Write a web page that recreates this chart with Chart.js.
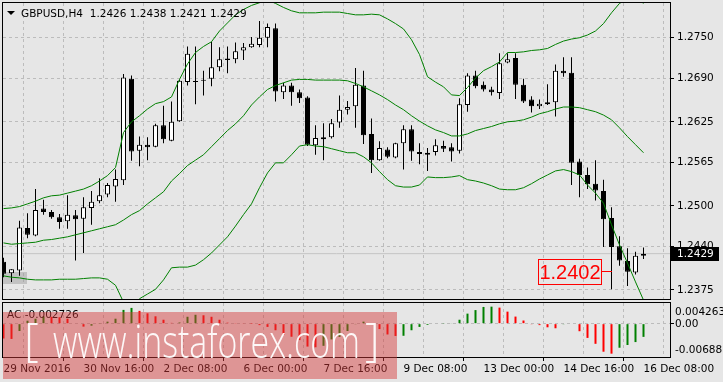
<!DOCTYPE html>
<html><head><meta charset="utf-8">
<script src="https://cdn.jsdelivr.net/npm/chart.js@4.4.1/dist/chart.umd.min.js"></script>
<style>
html,body{margin:0;padding:0;background:#e6e6e6;}
#wrap{position:relative;width:723px;height:382px;overflow:hidden;background:#e6e6e6;font-family:'DejaVu Sans',sans-serif;}
canvas{position:absolute;left:0;}
#c1{top:0;} #c2{top:300px;}
.lbl{position:absolute;font-size:10.5px;line-height:12px;color:#000;white-space:pre;}
#tri{position:absolute;left:7px;top:11px;width:0;height:0;border-left:4px solid transparent;border-right:4px solid transparent;border-top:4px solid #000;}
#title{left:21px;top:7px;}
#aclbl{left:7px;top:308px;}
#wm{position:absolute;left:3px;top:312px;width:394px;height:67px;background:rgba(212,58,58,0.47);overflow:hidden;}
#wm span{position:absolute;font-family:'Open Sans',sans-serif;font-weight:300;font-size:46px;line-height:46px;color:rgba(255,255,255,0.93);white-space:pre;transform-origin:0 0;}
</style></head>
<body><div id="wrap">
<canvas id="c1" width="723" height="300"></canvas>
<canvas id="c2" width="723" height="82"></canvas>
<div id="tri"></div>
<div class="lbl" id="title"></div>
<div class="lbl" id="aclbl"></div>
<div id="wm"><span id="wb1">[</span><span id="wurl">www.instaforex.com</span><span id="wb2">]</span></div>
</div>
<script>
// ---------- data ----------
const symbolName = 'GBPUSD,H4';
const indicatorName = 'AC';
const opens = [1.2417,1.2400,1.2404,1.2467,1.2456,1.2496,1.2491,1.2483,1.2477,1.2486,
1.2481,1.2497,1.2507,1.2517,1.2529,1.2538,1.2689,1.2582,1.2591,1.2588,
1.2620,1.2597,1.2626,1.2684,1.2685,1.2687,1.2689,1.2706,1.2719,1.2718,
1.2731,1.2736,1.2739,1.2750,1.2764,1.2669,1.2679,1.2669,1.2661,1.2590,
1.2599,1.2602,1.2624,1.2643,1.2648,1.2679,1.2607,1.2568,1.2584,1.2572,
1.2593,1.2614,1.2580,1.2579,1.2580,1.2589,1.2587,1.2582,1.2650,1.2694,
1.2680,1.2673,1.2668,1.2713,1.2720,1.2680,1.2658,1.2648,1.2651,1.2654,
1.2701,1.2698,1.2566,1.2546,1.2533,1.2522,1.2482,1.2440,1.2418,1.2401,
1.2426];
const highs = [1.2423,1.2406,1.2478,1.2489,1.2525,1.2509,1.2494,1.2488,1.2516,1.2494,
1.2513,1.2522,1.2541,1.2534,1.2554,1.2696,1.2694,1.2603,1.2602,1.2622,
1.2649,1.2655,1.2688,1.2737,1.2737,1.2701,1.2744,1.2736,1.2737,1.2743,
1.2742,1.2751,1.2775,1.2771,1.2771,1.2683,1.2683,1.2673,1.2663,1.2620,
1.2623,1.2629,1.2664,1.2656,1.2705,1.2701,1.2630,1.2596,1.2587,1.2594,
1.2620,1.2620,1.2593,1.2586,1.2599,1.2597,1.2593,1.2660,1.2697,1.2701,
1.2685,1.2677,1.2727,1.2727,1.2727,1.2689,1.2663,1.2658,1.2681,1.2710,
1.2721,1.2721,1.2570,1.2557,1.2568,1.2539,1.2498,1.2455,1.2437,1.2432,
1.2438];
const lows = [1.2394,1.2387,1.2396,1.2452,1.2455,1.2487,1.2481,1.2466,1.2466,1.2419,
1.2430,1.2472,1.2504,1.2513,1.2506,1.2531,1.2567,1.2559,1.2568,1.2587,
1.2593,1.2596,1.2625,1.2679,1.2651,1.2664,1.2678,1.2700,1.2697,1.2712,
1.2717,1.2735,1.2736,1.2736,1.2655,1.2659,1.2649,1.2653,1.2589,1.2576,
1.2568,1.2600,1.2616,1.2636,1.2616,1.2592,1.2549,1.2567,1.2571,1.2571,
1.2554,1.2567,1.2562,1.2552,1.2575,1.2580,1.2566,1.2578,1.2640,1.2675,
1.2670,1.2664,1.2659,1.2712,1.2659,1.2653,1.2639,1.2644,1.2650,1.2633,
1.2692,1.2531,1.2513,1.2525,1.2508,1.2439,1.2376,1.2411,1.2381,1.2398,
1.2421];
const closes = [1.2399,1.2406,1.2468,1.2457,1.2494,1.2491,1.2483,1.2476,1.2487,1.2480,
1.2498,1.2506,1.2516,1.2531,1.2540,1.2691,1.2581,1.2591,1.2587,1.2620,
1.2599,1.2625,1.2686,1.2726,1.2684,1.2686,1.2706,1.2718,1.2717,1.2730,
1.2736,1.2741,1.2750,1.2766,1.2670,1.2679,1.2669,1.2660,1.2591,1.2601,
1.2602,1.2623,1.2643,1.2647,1.2680,1.2605,1.2568,1.2586,1.2573,1.2593,
1.2614,1.2581,1.2577,1.2576,1.2590,1.2585,1.2581,1.2651,1.2694,1.2678,
1.2673,1.2669,1.2712,1.2718,1.2680,1.2655,1.2648,1.2652,1.2654,1.2701,
1.2697,1.2564,1.2546,1.2532,1.2523,1.2480,1.2439,1.2419,1.2402,1.2426,
1.2429];
const bbUpper = [1.2496,1.2497,1.2499,1.2503,1.2507,1.2512,1.2515,1.2516,1.2519,1.2522,
1.2525,1.2530,1.2537,1.2545,1.2557,1.2609,1.2625,1.2634,1.2644,1.2652,
1.2655,1.2662,1.2688,1.2711,1.2728,1.2737,1.2744,1.2760,1.2772,1.2784,
1.2792,1.2798,1.2802,1.2806,1.2801,1.2795,1.2790,1.2787,1.2787,1.2787,
1.2788,1.2788,1.2788,1.2786,1.2784,1.2784,1.2785,1.2784,1.2778,1.2771,
1.2763,1.2747,1.2725,1.2692,1.2684,1.2677,1.2665,1.2664,1.2676,1.2690,
1.2701,1.2707,1.2714,1.2728,1.2728,1.2729,1.2731,1.2732,1.2734,1.2740,
1.2745,1.2748,1.2750,1.2754,1.2760,1.2771,1.2787,1.2801,1.2808,1.2810,
1.2801];
const bbMiddle = [1.2445,1.2443,1.2444,1.2445,1.2446,1.2449,1.2450,1.2452,1.2454,1.2457,
1.2460,1.2463,1.2466,1.2469,1.2472,1.2479,1.2487,1.2493,1.2503,1.2512,
1.2521,1.2537,1.2548,1.2560,1.2568,1.2576,1.2588,1.2600,1.2612,1.2622,
1.2634,1.2650,1.2662,1.2673,1.2679,1.2683,1.2687,1.2688,1.2688,1.2687,
1.2687,1.2687,1.2687,1.2686,1.2682,1.2677,1.2671,1.2665,1.2658,1.2650,
1.2643,1.2634,1.2626,1.2619,1.2613,1.2609,1.2604,1.2604,1.2607,1.2612,
1.2615,1.2618,1.2622,1.2625,1.2626,1.2628,1.2632,1.2637,1.2640,1.2644,
1.2647,1.2647,1.2646,1.2643,1.2640,1.2635,1.2628,1.2616,1.2603,1.2591,
1.2579];
const bbLower = [1.2396,1.2394,1.2393,1.2391,1.2390,1.2390,1.2390,1.2391,1.2391,1.2391,
1.2392,1.2393,1.2393,1.2391,1.2382,1.2357,1.2345,1.2362,1.2369,1.2376,
1.2390,1.2408,1.2409,1.2409,1.2412,1.2420,1.2430,1.2442,1.2454,1.2470,
1.2487,1.2503,1.2527,1.2549,1.2564,1.2564,1.2576,1.2589,1.2591,1.2589,
1.2588,1.2585,1.2582,1.2579,1.2579,1.2573,1.2564,1.2551,1.2539,1.2530,
1.2528,1.2528,1.2531,1.2543,1.2542,1.2542,1.2543,1.2545,1.2539,1.2537,
1.2534,1.2530,1.2525,1.2524,1.2524,1.2527,1.2533,1.2540,1.2546,1.2552,
1.2554,1.2551,1.2546,1.2531,1.2519,1.2504,1.2472,1.2442,1.2415,1.2387,
1.2360];
const acValues = [-0.00305,-0.00315,-0.00152,0.00061,0.00102,0.00152,0.00142,0.00132,0.00102,0.00010,
-0.00061,-0.00041,0.00006,0.00041,0.00102,0.00284,0.00325,0.00264,0.00213,0.00152,
0.00081,0.00016,0.00024,0.00142,0.00183,0.00173,0.00142,0.00081,0.00020,0.00014,
0.00008,0.00002,-0.00030,-0.00067,-0.00136,-0.00229,-0.00270,-0.00339,-0.00473,-0.00487,
-0.00457,-0.00325,-0.00274,-0.00152,-0.00006,0.00041,-0.00010,-0.00112,-0.00223,-0.00254,
-0.00250,-0.00136,-0.00067,-0.00026,-0.00010,0.00006,0.00012,0.00081,0.00207,0.00280,
0.00345,0.00351,0.00331,0.00248,0.00146,0.00065,-0.00006,-0.00030,-0.00075,-0.00095,
-0.00006,-0.00010,-0.00156,-0.00294,-0.00416,-0.00579,-0.00619,-0.00497,-0.00441,-0.00380,
-0.002726];
const dateLabels = ['29 Nov 2016','30 Nov 16:00','2 Dec 08:00','6 Dec 00:00','7 Dec 16:00',
  '9 Dec 08:00','13 Dec 00:00','14 Dec 16:00','16 Dec 08:00'];
const priceTicks = [1.2375,1.2440,1.2500,1.2565,1.2625,1.2690,1.2750];
const priceRange = [1.23616,1.28016];
const acRange = [-0.00688,0.004263];
const acScaleLabels = ['0.004263','0.00','-0.00688'];
const markedPrice = 1.2402;
const markedBar = 76;
const shadedBars = [-0.5, 2.94];
const shadedPrices = [1.2384, 1.2402];

// ---------- setup ----------
const N = closes.length;
const X_MIN = -0.0625, X_MAX = 83.3125;
const GRID = '#bcbcbc';
const FONT = "'DejaVu Sans', sans-serif";
Chart.defaults.font.family = FONT;
Chart.defaults.font.size = 10.5;
Chart.defaults.color = '#000';

const lastO = opens[N-1], lastH = highs[N-1], lastL = lows[N-1], lastC = closes[N-1];
document.getElementById('title').textContent =
  symbolName + '  ' + [lastO,lastH,lastL,lastC].map(v=>v.toFixed(4)).join(' ');
document.getElementById('aclbl').textContent = indicatorName + ' ' + acValues[N-1].toFixed(6);

const idx = closes.map((_, i) => i);
const pts = arr => arr.map((v, i) => ({x: i, y: v}));
const up = i => closes[i] >= opens[i];

function gridTicks(s){ s.ticks = []; for (let v = 0; v < N; v += 5) s.ticks.push({value: v}); }

const framePlugin = {
  id: 'frame',
  afterDraw(chart){
    const {ctx, chartArea: a} = chart;
    ctx.save(); ctx.strokeStyle = '#000'; ctx.lineWidth = 1;
    ctx.strokeRect(a.left - 0.5, a.top - 0.5, a.right - a.left + 1, a.bottom - a.top + 1);
    ctx.restore();
  }
};

const shadePlugin = {
  id: 'shade',
  beforeDatasetsDraw(chart){
    const {ctx, chartArea: a} = chart; const xs = chart.scales.x, ys = chart.scales.y;
    const x1 = Math.max(a.left, Math.round(xs.getPixelForValue(shadedBars[0])));
    const x2 = Math.round(xs.getPixelForValue(shadedBars[1]));
    const y1 = Math.round(ys.getPixelForValue(shadedPrices[1]));
    const y2 = Math.round(ys.getPixelForValue(shadedPrices[0]));
    ctx.save(); ctx.fillStyle = 'rgba(150,150,150,0.45)'; ctx.fillRect(x1, y1, x2 - x1, y2 - y1); ctx.restore();
  }
};

const mainLabels = {
  id: 'mainLabels',
  afterDraw(chart){
    const {ctx, chartArea: a} = chart;
    const xs = chart.scales.x, ys = chart.scales.y;
    ctx.save();
    const yc = ys.getPixelForValue(lastC);
    ctx.fillStyle = '#000';
    ctx.fillRect(a.right + 1, Math.round(yc) - 7, 48, 14);
    ctx.fillStyle = '#fff';
    ctx.font = '10.5px ' + FONT;
    ctx.textBaseline = 'middle'; ctx.textAlign = 'left';
    ctx.fillText(lastC.toFixed(4), a.right + 7, yc + 0.5);
    const py = Math.round(ys.getPixelForValue(markedPrice)) - 0.5;
    const px = Math.round(xs.getPixelForValue(markedBar));
    ctx.strokeStyle = '#ff0000'; ctx.lineWidth = 1;
    ctx.beginPath(); ctx.moveTo(px - 10, py); ctx.lineTo(px, py); ctx.stroke();
    ctx.strokeRect(px - 73.5, py - 12, 63, 25);
    ctx.fillStyle = '#ff0000';
    ctx.font = "20px 'Liberation Sans', Arial, sans-serif";
    ctx.textAlign = 'center';
    ctx.fillText(markedPrice.toFixed(4), px - 42, py + 1.5);
    ctx.restore();
  }
};

new Chart(document.getElementById('c1'), {
  type: 'bar',
  data: { datasets: [
    { type:'line', data: pts(bbUpper), borderColor:'#008000', borderWidth:1, pointRadius:0, tension:0, order:1 },
    { type:'line', data: pts(bbMiddle), borderColor:'#008000', borderWidth:1, pointRadius:0, tension:0, order:1 },
    { type:'line', data: pts(bbLower), borderColor:'#008000', borderWidth:1, pointRadius:0, tension:0, order:1 },
    { type:'bar', data: idx.map(i => ({x:i, y:[Math.min(opens[i],closes[i]), Math.max(opens[i],closes[i])]})),
      barThickness:5, grouped:false, inflateAmount:0, minBarLength:1,
      backgroundColor: c => up(c.dataIndex) ? '#ffffff' : '#000000',
      borderColor:'#000', borderWidth:1, borderSkipped:false, order:2 },
    { type:'bar', data: idx.map(i => ({x:i, y:[lows[i], highs[i]]})),
      barThickness:1, grouped:false, inflateAmount:0, backgroundColor:'#000', borderWidth:0, order:3 },
    { type:'line', data: [{x:X_MIN, y:lastC},{x:X_MAX, y:lastC}], borderColor:'#c4c4c4', borderWidth:1, pointRadius:0, order:4 }
  ]},
  options: {
    responsive:false, animation:false, devicePixelRatio:1, events:[],
    layout:{ padding:{ left:3, top:3, right:0, bottom:1 } },
    plugins:{ legend:{display:false}, tooltip:{enabled:false} },
    scales:{
      x:{ type:'linear', min:X_MIN, max:X_MAX, bounds:'data', offset:false,
          afterBuildTicks: gridTicks,
          grid:{ color:GRID, lineWidth:1, drawTicks:false },
          border:{ display:false, dash:[3,3] },
          ticks:{ display:false },
          afterFit(s){ s.height = 0; s.paddingLeft = 0; s.paddingRight = 0; } },
      y:{ position:'right', min:priceRange[0], max:priceRange[1], bounds:'data',
          afterBuildTicks(s){ s.ticks = priceTicks.map(v => ({value:v})); },
          grid:{ color:GRID, lineWidth:1, drawTicks:true, tickLength:4, tickColor:'#000', tickWidth:1, tickBorderDash:[] },
          border:{ display:false, dash:[3,3] },
          ticks:{ padding:3, color:'#000', callback: v => Number(v).toFixed(4) },
          afterFit(s){ s.width = 53; s.paddingTop = 0; s.paddingBottom = 0; } }
    }
  },
  plugins:[shadePlugin, framePlugin, mainLabels]
});

const acLabels = {
  id:'acLabels',
  afterDraw(chart){
    const {ctx, chartArea:a} = chart; const ys = chart.scales.y;
    ctx.save(); ctx.fillStyle = '#000'; ctx.font = '10.5px ' + FONT;
    ctx.textBaseline = 'middle'; ctx.textAlign = 'left';
    ctx.fillText(acScaleLabels[0], a.right + 5, a.top + 9.5);
    ctx.fillText(acScaleLabels[1], a.right + 5, ys.getPixelForValue(0) + 0.5);
    ctx.fillText(acScaleLabels[2], a.right + 5, a.bottom - 7);
    ctx.restore();
  }
};

new Chart(document.getElementById('c2'), {
  type:'bar',
  data:{ datasets:[
    { data: pts(acValues), barThickness:2, grouped:false, inflateAmount:0, borderWidth:0,
      backgroundColor: c => (c.dataIndex > 0 && acValues[c.dataIndex] > acValues[c.dataIndex-1]) ? '#008000' : '#ff0000' }
  ]},
  options:{
    responsive:false, animation:false, devicePixelRatio:1, events:[],
    layout:{ padding:{ left:3, top:3, right:0, bottom:0 } },
    plugins:{ legend:{display:false}, tooltip:{enabled:false} },
    scales:{
      x:{ type:'linear', min:X_MIN, max:X_MAX, bounds:'data', offset:false,
          afterBuildTicks: gridTicks,
          grid:{ color:GRID, lineWidth:1, drawTicks:true, tickLength:4, tickWidth:1, tickBorderDash:[],
                 tickColor: c => (c.tick && c.tick.value % 10 === 0) ? '#000' : 'rgba(0,0,0,0)' },
          border:{ display:false, dash:[3,3] },
          ticks:{ display:true, align:'start', padding:2, autoSkip:false, maxRotation:0, minRotation:0, color:'#000',
                  callback: v => (v % 10 === 0 && dateLabels[v/10] !== undefined) ? dateLabels[v/10] : '' },
          afterFit(s){ s.height = 25; s.paddingLeft = 0; s.paddingRight = 0; } },
      y:{ position:'right', min:acRange[0], max:acRange[1], bounds:'data',
          afterBuildTicks(s){ s.ticks = [{value:0}]; },
          grid:{ color:GRID, lineWidth:1, drawTicks:true, tickLength:4, tickColor:'#000', tickBorderDash:[] },
          border:{ display:false, dash:[3,3] },
          ticks:{ display:false },
          afterFit(s){ s.width = 53; s.paddingTop = 0; s.paddingBottom = 0; } }
    }
  },
  plugins:[framePlugin, acLabels]
});

// watermark layout
(function(){
  const url = document.getElementById('wurl');
  const b1 = document.getElementById('wb1'), b2 = document.getElementById('wb2');
  const w = url.getBoundingClientRect().width;
  const k = 307 / w;
  url.style.left = '50px'; url.style.top = '5px'; url.style.transform = 'scaleX(' + k + ')';
  b1.style.left = '21px'; b1.style.top = '3px';
  b2.style.left = '362px'; b2.style.top = '3px';
})();
</script>
</body></html>
